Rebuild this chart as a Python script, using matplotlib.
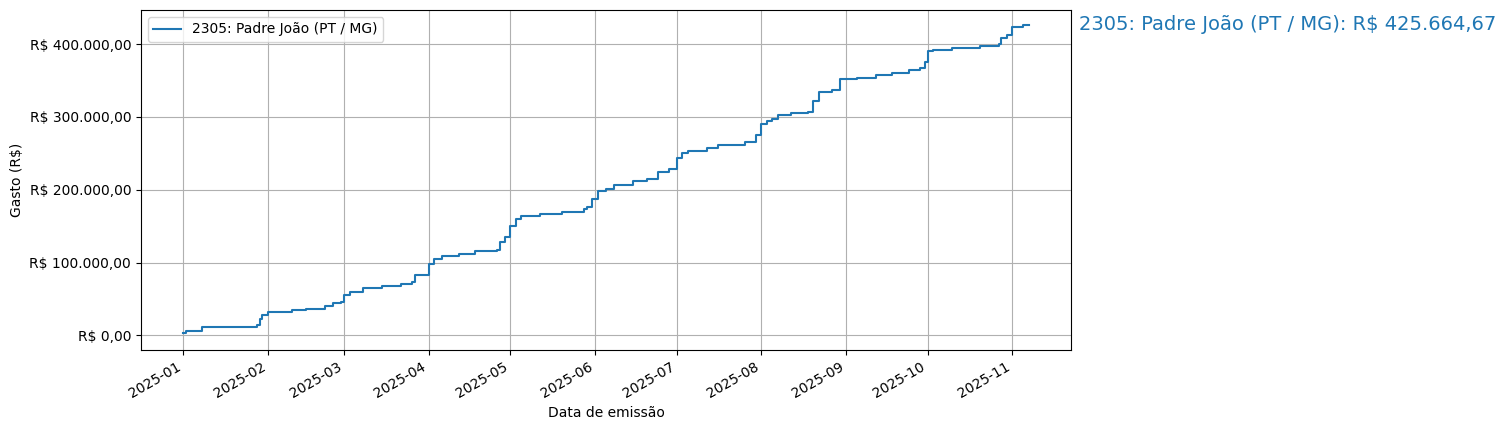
import matplotlib
matplotlib.use("Agg")
import matplotlib.pyplot as plt
import matplotlib.dates as mdates
import matplotlib.ticker as mticker
import pandas as pd

dates = ["2025-01-01","2025-01-02","2025-01-08","2025-01-28","2025-01-29","2025-01-30","2025-02-01","2025-02-10",
"2025-02-15","2025-02-22","2025-02-25","2025-02-28","2025-03-01","2025-03-03","2025-03-08","2025-03-15","2025-03-22",
"2025-03-26","2025-03-27","2025-04-01","2025-04-03","2025-04-06","2025-04-12","2025-04-18","2025-04-26","2025-04-27",
"2025-04-29","2025-05-01","2025-05-03","2025-05-05","2025-05-12","2025-05-20","2025-05-28","2025-05-29","2025-05-31",
"2025-06-02","2025-06-05","2025-06-08","2025-06-15","2025-06-20","2025-06-24","2025-06-28","2025-07-01","2025-07-03",
"2025-07-05","2025-07-12","2025-07-16","2025-07-26","2025-07-30","2025-08-01","2025-08-03","2025-08-05","2025-08-07",
"2025-08-12","2025-08-18","2025-08-20","2025-08-22","2025-08-27","2025-08-30","2025-09-05","2025-09-12","2025-09-18",
"2025-09-24","2025-09-28","2025-09-30","2025-10-01","2025-10-03","2025-10-10","2025-10-20","2025-10-27","2025-10-28",
"2025-10-30","2025-11-01","2025-11-05","2025-11-07"]
values = [3000,6000,11000,14000,23000,28000,32000,35000,37000,40000,44000,46000,55000,59000,65000,68000,71000,
74000,83000,98000,105000,109000,112000,116000,117000,128000,135000,150000,160000,164000,167000,169000,173000,177000,188000,
198000,201000,207000,212000,215000,225000,229000,243000,251000,253000,257000,262000,265000,275000,290000,294000,297000,303000,
305000,307000,322000,334000,337000,352000,354000,357000,361000,364000,367000,376000,390000,392000,395000,397000,400000,409000,
412000,424000,425664.67,425664.67]
label = "2305: Padre João (PT / MG)"
total_text = "2305: Padre João (PT / MG): R$ 425.664,67"

def brl(v, pos=None):
    s = f"{v:,.2f}".replace(",", "X").replace(".", ",").replace("X", ".")
    return f"R$ {s}"

fig = plt.figure(figsize=(15.06, 4.3), dpi=100)
ax = fig.add_axes([0.0936, 0.186, 0.6175, 0.791])
x = pd.to_datetime(dates)
ax.plot(x, values, drawstyle="steps-post", color="C0", label=label)
ax.yaxis.set_major_formatter(mticker.FuncFormatter(brl))
ax.yaxis.set_major_locator(mticker.MultipleLocator(100000))
ax.set_ylim(-20000, 447000)
ax.xaxis.set_major_locator(mdates.MonthLocator())
ax.xaxis.set_major_formatter(mdates.DateFormatter("%Y-%m"))
for t in ax.get_xticklabels():
    t.set_rotation(30); t.set_ha("right")
ax.grid(True)
ax.set_xlabel("Data de emissão")
ax.set_ylabel("Gasto (R$)")
ax.legend(loc="upper left")
fig.text(1079/1506, 1-25/430, total_text, color="C0", fontsize=14, va="center", ha="left")
fig.savefig("out.png")
